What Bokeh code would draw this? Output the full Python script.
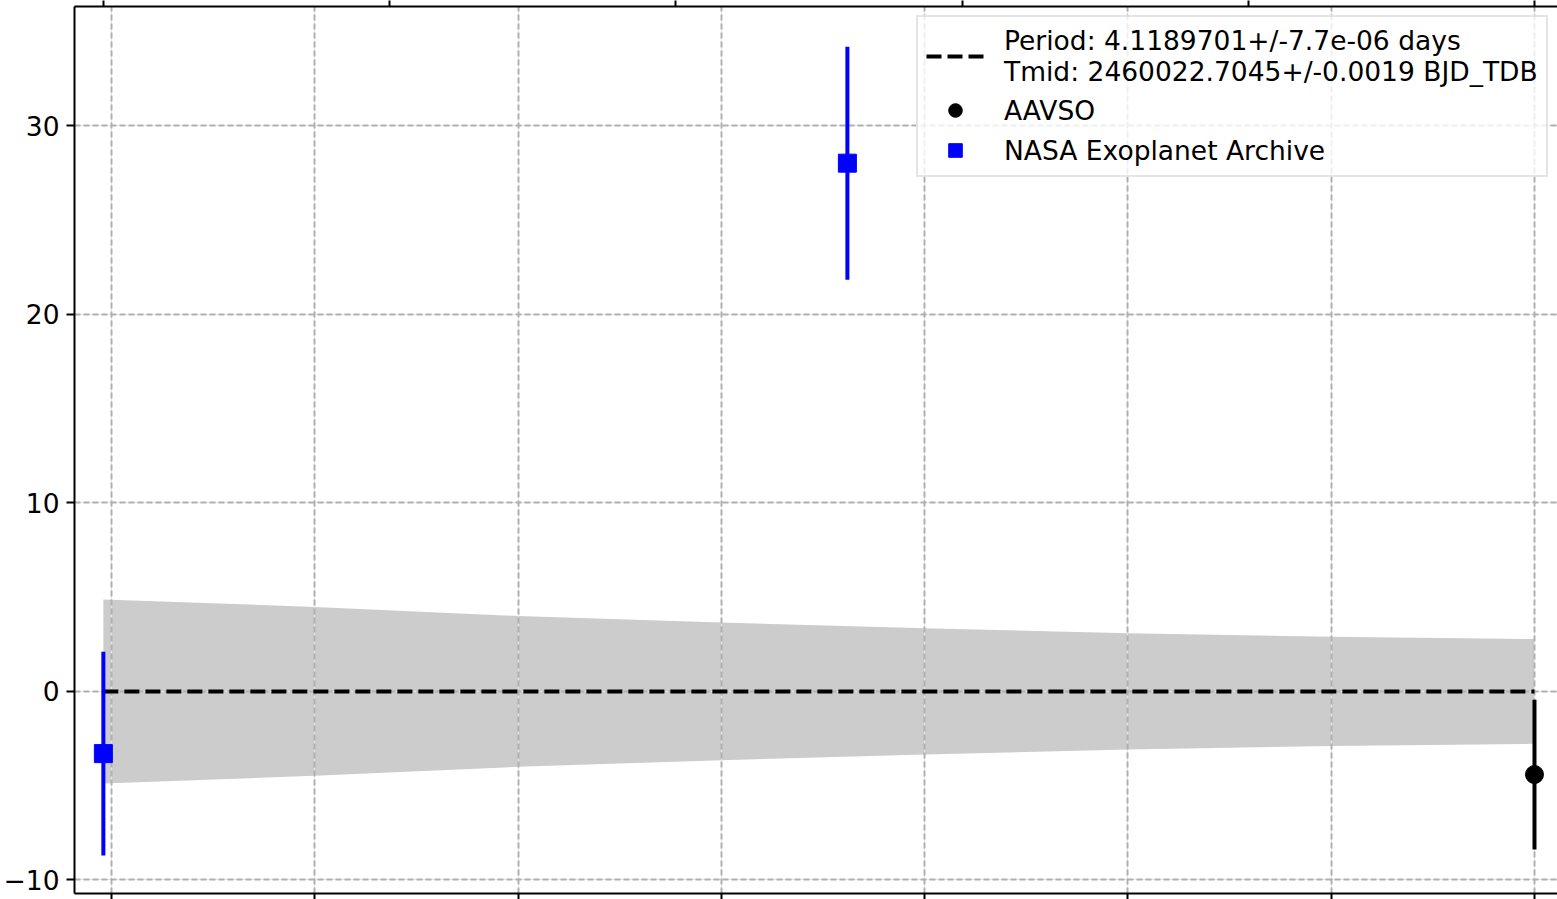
from bokeh.plotting import figure
from bokeh.models import (Range1d, FixedTicker, LinearAxis, Legend, LegendItem,
                          ColumnDataSource, Grid)
from bokeh.embed import file_html
from bokeh.resources import INLINE

# ---- data (O-C in minutes vs epoch) ----
nasa_epoch = [-352, -169]
nasa_oc = [-3.30, 28.02]
nasa_err = [5.40, 6.18]

aavso_epoch = [0]
aavso_oc = [-4.41]
aavso_err = [3.97]

band_epoch = [-352, -300, -250, -200, -150, -100, -50, 0]
band_upper = [4.88, 4.48, 4.00, 3.65, 3.35, 3.08, 2.90, 2.78]
band_lower = [-4.88, -4.48, -4.00, -3.65, -3.35, -3.08, -2.90, -2.78]

fit_epoch = [-352, 0]
fit_oc = [0, 0]

x_ticks = [-350, -300, -250, -200, -150, -100, -50, 0]
top_ticks = [-352, -281.6, -211.2, -140.8, -70.4, 0]
y_ticks = [-10, 0, 10, 20, 30]
y_tick_labels = ["\u221210", "0", "10", "20", "30"]

fit_label = "Period: 4.1189701+/-7.7e-06 days\nTmid: 2460022.7045+/-0.0019 BJD_TDB"
aavso_label = "AAVSO"
nasa_label = "NASA Exoplanet Archive"

FONT = "DejaVu Sans"
FS = "26.5px"

p = figure(width=1557, height=899, output_backend="svg", toolbar_location=None,
           x_range=Range1d(-359.1, 5.66), y_range=Range1d(-10.72, 36.33),
           min_border_left=74, min_border_right=0, min_border_top=0, min_border_bottom=0,
           x_axis_location=None, y_axis_location=None)
p.outline_line_color = None
p.background_fill_color = "white"


def silent_axis(ticks, tick_out):
    ax = LinearAxis(ticker=FixedTicker(ticks=ticks))
    ax.major_label_overrides = {t: "" for t in ticks}
    ax.major_label_text_font_size = "1px"
    ax.major_label_standoff = 0
    ax.major_tick_out = tick_out
    ax.major_tick_in = 0
    ax.major_tick_line_width = 2
    ax.minor_tick_line_color = None
    ax.axis_line_width = 2
    return ax


p.add_layout(silent_axis(x_ticks, 6), "below")
p.add_layout(silent_axis(top_ticks, 6), "above")

left = LinearAxis(ticker=FixedTicker(ticks=y_ticks))
left.major_label_overrides = {t: s for t, s in zip(y_ticks, y_tick_labels)}
left.major_label_text_font = FONT
left.major_label_text_font_size = FS
left.major_label_text_color = "black"
left.major_label_standoff = 7
left.major_tick_out = 8
left.major_tick_in = 0
left.major_tick_line_width = 2
left.minor_tick_line_color = None
left.axis_line_width = 2
p.add_layout(left, "left")

# grids
p.add_layout(Grid(dimension=0, ticker=FixedTicker(ticks=x_ticks), grid_line_color="#b0b0b0",
                  grid_line_width=2, grid_line_dash="6 3"))
p.add_layout(Grid(dimension=1, ticker=FixedTicker(ticks=y_ticks), grid_line_color="#b0b0b0",
                  grid_line_width=2, grid_line_dash="6 3"))

# uncertainty band
band_src = ColumnDataSource(dict(x=band_epoch, y1=band_lower, y2=band_upper))
p.varea(x="x", y1="y1", y2="y2", source=band_src, fill_color="#cccccc", level="image")

# fit line
fit_r = p.line(fit_epoch, fit_oc, line_color="black", line_width=4, line_dash="15 6")

# AAVSO
a_lo = [v - e for v, e in zip(aavso_oc, aavso_err)]
a_hi = [v + e for v, e in zip(aavso_oc, aavso_err)]
p.segment(x0=aavso_epoch, y0=a_lo, x1=aavso_epoch, y1=a_hi, line_color="black", line_width=4)
a_r = p.scatter(aavso_epoch, aavso_oc, marker="circle", size=18, fill_color="black", line_color="black")

# NASA
n_lo = [v - e for v, e in zip(nasa_oc, nasa_err)]
n_hi = [v + e for v, e in zip(nasa_oc, nasa_err)]
p.segment(x0=nasa_epoch, y0=n_lo, x1=nasa_epoch, y1=n_hi, line_color="blue", line_width=4)
n_r = p.scatter(nasa_epoch, nasa_oc, marker="square", size=18, fill_color="blue", line_color="blue")

legend = Legend(items=[LegendItem(label=fit_label, renderers=[fit_r]),
                       LegendItem(label=aavso_label, renderers=[a_r]),
                       LegendItem(label=nasa_label, renderers=[n_r])],
                location=(842, 716))
legend.label_text_font = FONT
legend.label_text_font_size = FS
legend.label_text_color = "black"
legend.label_text_line_height = 1.13
legend.glyph_width = 58
legend.glyph_height = 34
legend.label_standoff = 20
legend.padding = 8
legend.spacing = 6
legend.margin = 0
legend.border_line_color = "#cccccc"
legend.border_line_width = 2
legend.background_fill_alpha = 0.8
p.add_layout(legend)

open("out.html", "w").write(file_html(p, INLINE))
